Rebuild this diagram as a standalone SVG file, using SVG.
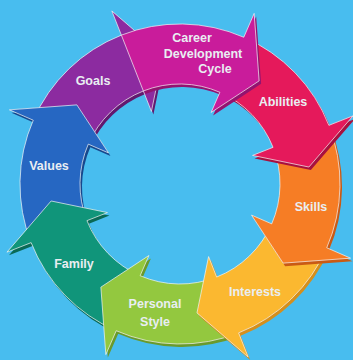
<svg xmlns="http://www.w3.org/2000/svg" width="353" height="360" viewBox="0 0 353 360">
<style>
.arr{stroke:#f4f4f4;stroke-opacity:0.7;stroke-width:1;stroke-linejoin:miter}
.sh{opacity:1}
.lbl{font-family:"Liberation Sans",Arial,sans-serif;font-weight:bold;font-size:12.5px;fill:#e9eef2;text-anchor:middle}
</style>
<rect width="353" height="360" fill="#48bdef"/>
<g id="goals">
<path class="sh" transform="translate(2,3)" fill="#62196f" d="M33.26,120.21 A160,160 0 0 1 121.36,35.14 L111.83,10.95 L163.04,55.12 L151.41,111.43 L143.35,90.96 A100,100 0 0 0 88.29,144.13 Z"/>
<path class="arr" fill="#8c2ba0" d="M33.26,120.21 A160,160 0 0 1 121.36,35.14 L111.83,10.95 L163.04,55.12 L151.41,111.43 L143.35,90.96 A100,100 0 0 0 88.29,144.13 Z"/>
<text class="lbl" x="93" y="85">Goals</text>
</g>
<g id="values">
<path class="sh" transform="translate(2,3)" fill="#17478c" d="M31.14,242.64 A160,160 0 0 1 33.26,120.21 L9.42,109.84 L76.86,104.86 L108.47,152.90 L88.29,144.13 A100,100 0 0 0 86.96,220.65 Z"/>
<path class="arr" fill="#2667c2" d="M31.14,242.64 A160,160 0 0 1 33.26,120.21 L9.42,109.84 L76.86,104.86 L108.47,152.90 L88.29,144.13 A100,100 0 0 0 86.96,220.65 Z"/>
<text class="lbl" x="49" y="170">Values</text>
</g>
<g id="family">
<path class="sh" transform="translate(2,3)" fill="#0a6a56" d="M116.21,330.74 A160,160 0 0 1 31.14,242.64 L6.95,252.17 L51.12,200.97 L107.43,212.59 L86.96,220.65 A100,100 0 0 0 140.13,275.71 Z"/>
<path class="arr" fill="#10957a" d="M116.21,330.74 A160,160 0 0 1 31.14,242.64 L6.95,252.17 L51.12,200.97 L107.43,212.59 L86.96,220.65 A100,100 0 0 0 140.13,275.71 Z"/>
<text class="lbl" x="74" y="268">Family</text>
</g>
<g id="personal-style">
<path class="sh" transform="translate(2,3)" fill="#6a9a2c" d="M238.64,332.86 A160,160 0 0 1 116.21,330.74 L105.84,354.58 L100.86,287.14 L148.90,255.53 L140.13,275.71 A100,100 0 0 0 216.65,277.04 Z"/>
<path class="arr" fill="#93c83f" d="M238.64,332.86 A160,160 0 0 1 116.21,330.74 L105.84,354.58 L100.86,287.14 L148.90,255.53 L140.13,275.71 A100,100 0 0 0 216.65,277.04 Z"/>
<text class="lbl" x="155" y="308">Personal</text>
<text class="lbl" x="155" y="326">Style</text>
</g>
<g id="interests">
<path class="sh" transform="translate(2,3)" fill="#d58f1c" d="M326.74,247.79 A160,160 0 0 1 238.64,332.86 L248.17,357.05 L196.97,312.88 L208.59,256.57 L216.65,277.04 A100,100 0 0 0 271.71,223.87 Z"/>
<path class="arr" fill="#fbb830" d="M326.74,247.79 A160,160 0 0 1 238.64,332.86 L248.17,357.05 L196.97,312.88 L208.59,256.57 L216.65,277.04 A100,100 0 0 0 271.71,223.87 Z"/>
<text class="lbl" x="255" y="296">Interests</text>
</g>
<g id="skills">
<path class="sh" transform="translate(2,3)" fill="#c95a14" d="M328.86,125.36 A160,160 0 0 1 326.74,247.79 L350.58,258.16 L283.14,263.14 L251.53,215.10 L271.71,223.87 A100,100 0 0 0 273.04,147.35 Z"/>
<path class="arr" fill="#f67d25" d="M328.86,125.36 A160,160 0 0 1 326.74,247.79 L350.58,258.16 L283.14,263.14 L251.53,215.10 L271.71,223.87 A100,100 0 0 0 273.04,147.35 Z"/>
<text class="lbl" x="311" y="211">Skills</text>
</g>
<g id="abilities">
<path class="sh" transform="translate(2,3)" fill="#a8103f" d="M243.79,37.26 A160,160 0 0 1 328.86,125.36 L353.05,115.83 L308.88,167.04 L252.57,155.41 L273.04,147.35 A100,100 0 0 0 219.87,92.29 Z"/>
<path class="arr" fill="#e5195b" d="M243.79,37.26 A160,160 0 0 1 328.86,125.36 L353.05,115.83 L308.88,167.04 L252.57,155.41 L273.04,147.35 A100,100 0 0 0 219.87,92.29 Z"/>
<text class="lbl" x="283" y="106">Abilities</text>
</g>
<g id="career-development-cycle">
<path class="sh" transform="translate(2,3)" fill="#931370" d="M121.36,35.14 A160,160 0 0 1 243.79,37.26 L254.16,13.42 L259.14,80.86 L211.10,112.47 L219.87,92.29 A100,100 0 0 0 143.35,90.96 Z"/>
<path class="arr" fill="#c91c9b" d="M121.36,35.14 A160,160 0 0 1 243.79,37.26 L254.16,13.42 L259.14,80.86 L211.10,112.47 L219.87,92.29 A100,100 0 0 0 143.35,90.96 Z"/>
<text class="lbl" x="192" y="42">Career</text>
<text class="lbl" x="203" y="58">Development</text>
<text class="lbl" x="215" y="73">Cycle</text>
</g>
<g id="connectors"/>
</svg>
